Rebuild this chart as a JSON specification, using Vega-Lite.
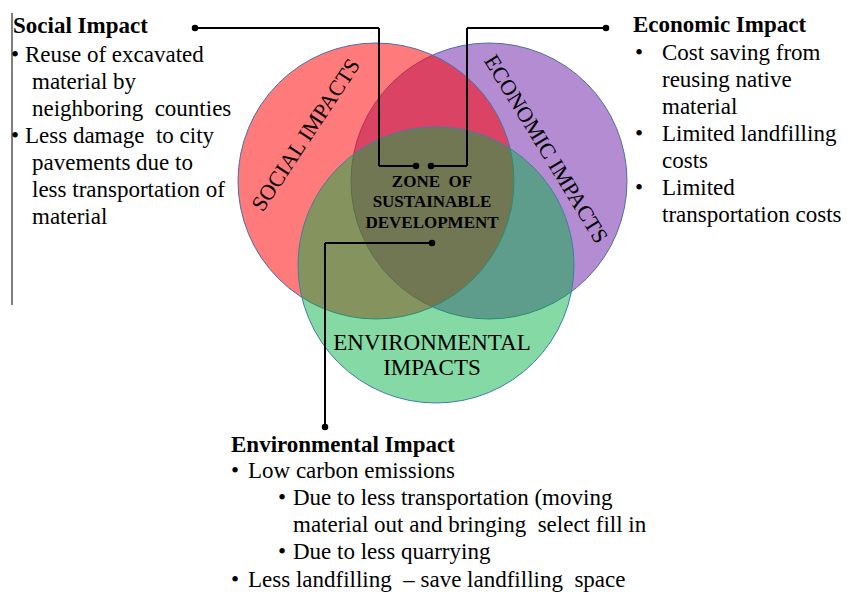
{
  "$schema": "https://vega.github.io/schema/vega-lite/v6.json",
  "width": 847,
  "height": 594,
  "autosize": {"type": "fit", "contains": "padding"},
  "padding": 0,
  "background": "white",
  "config": {"view": {"stroke": null}, "text": {"font": "Liberation Serif", "color": "black"}},
  "datasets": {
    "circles": [
      {"name": "Economic", "cx": 489, "cy": 181},
      {"name": "Social", "cx": 376, "cy": 181},
      {"name": "Environmental", "cx": 436, "cy": 265}
    ],
    "segments": [
      {"x": 195, "y": 28, "x2": 379, "y2": 28},
      {"x": 379, "y": 28, "x2": 379, "y2": 166},
      {"x": 379, "y": 166, "x2": 416, "y2": 166},
      {"x": 606, "y": 28, "x2": 467, "y2": 28},
      {"x": 467, "y": 28, "x2": 467, "y2": 166},
      {"x": 467, "y": 166, "x2": 431, "y2": 166},
      {"x": 432, "y": 243, "x2": 325, "y2": 243},
      {"x": 325, "y": 243, "x2": 325, "y2": 427}
    ],
    "border": [{"x": 12, "y": 13, "x2": 12, "y2": 305}],
    "dots": [
      {"x": 195, "y": 28}, {"x": 416, "y": 166}, {"x": 606, "y": 28},
      {"x": 431, "y": 166}, {"x": 432, "y": 243}, {"x": 325, "y": 427}
    ],
    "labels": [
      {"group": "head", "text": "Social Impact", "x": 13, "y": 33},
      {"group": "head", "text": "Economic Impact", "x": 633, "y": 32},
      {"group": "head", "text": "Environmental Impact", "x": 231, "y": 452},
      {"group": "body", "text": "•", "x": 11, "y": 62},
      {"group": "body", "text": "Reuse of excavated", "x": 25, "y": 62},
      {"group": "body", "text": "material by", "x": 32, "y": 89},
      {"group": "body", "text": "neighboring\u00a0 counties", "x": 32, "y": 116},
      {"group": "body", "text": "•", "x": 11, "y": 143},
      {"group": "body", "text": "Less damage\u00a0 to city", "x": 25, "y": 143},
      {"group": "body", "text": "pavements due to", "x": 32, "y": 170},
      {"group": "body", "text": "less transportation of", "x": 32, "y": 197},
      {"group": "body", "text": "material", "x": 32, "y": 224},
      {"group": "body", "text": "•", "x": 635, "y": 60},
      {"group": "body", "text": "Cost saving from", "x": 662, "y": 60},
      {"group": "body", "text": "reusing native", "x": 662, "y": 87},
      {"group": "body", "text": "material", "x": 662, "y": 114},
      {"group": "body", "text": "•", "x": 635, "y": 141},
      {"group": "body", "text": "Limited landfilling", "x": 662, "y": 141},
      {"group": "body", "text": "costs", "x": 662, "y": 168},
      {"group": "body", "text": "•", "x": 635, "y": 195},
      {"group": "body", "text": "Limited", "x": 662, "y": 195},
      {"group": "body", "text": "transportation costs", "x": 662, "y": 222},
      {"group": "body", "text": "•", "x": 231, "y": 478},
      {"group": "body", "text": "Low carbon emissions", "x": 248, "y": 478},
      {"group": "body", "text": "•", "x": 278, "y": 505},
      {"group": "body", "text": "Due to less transportation (moving", "x": 293, "y": 505},
      {"group": "body", "text": "material out and bringing\u00a0 select fill in", "x": 293, "y": 532},
      {"group": "body", "text": "•", "x": 278, "y": 559},
      {"group": "body", "text": "Due to less quarrying", "x": 293, "y": 559},
      {"group": "body", "text": "•", "x": 231, "y": 587},
      {"group": "body", "text": "Less landfilling\u00a0 – save landfilling\u00a0 space", "x": 248, "y": 587},
      {"group": "social", "text": "SOCIAL IMPACTS", "x": 306, "y": 135},
      {"group": "econ", "text": "ECONOMIC IMPACTS", "x": 546, "y": 149},
      {"group": "zone", "text": "ZONE\u00a0 OF", "x": 432, "y": 182},
      {"group": "zone", "text": "SUSTAINABLE", "x": 432, "y": 202},
      {"group": "zone", "text": "DEVELOPMENT", "x": 432, "y": 223},
      {"group": "env", "text": "ENVIRONMENTAL", "x": 432, "y": 343},
      {"group": "env", "text": "IMPACTS", "x": 432, "y": 368}
    ]
  },
  "encoding": {
    "x": {"field": "x", "type": "quantitative", "scale": {"domain": [0, 847], "nice": false, "zero": false}, "axis": null},
    "y": {"field": "y", "type": "quantitative", "scale": {"domain": [0, 594], "nice": false, "zero": false, "reverse": true}, "axis": null}
  },
  "layer": [
    {
      "data": {"name": "circles"},
      "transform": [{"filter": "datum.name === 'Economic'"}],
      "mark": {"type": "point", "shape": "circle", "filled": true, "size": 76176, "fill": "#B48CD2", "fillOpacity": 1, "opacity": 1, "stroke": "#4A6FA5", "strokeWidth": 1},
      "encoding": {
        "x": {"field": "cx", "type": "quantitative", "scale": {"domain": [0, 847], "nice": false, "zero": false}, "axis": null},
        "y": {"field": "cy", "type": "quantitative", "scale": {"domain": [0, 594], "nice": false, "zero": false, "reverse": true}, "axis": null}
      }
    },
    {
      "data": {"name": "circles"},
      "transform": [{"filter": "datum.name === 'Social'"}],
      "mark": {"type": "point", "shape": "circle", "filled": true, "size": 76176, "fill": "#FF0000", "fillOpacity": 0.52, "opacity": 1, "stroke": "#4A6FA5", "strokeWidth": 1},
      "encoding": {
        "x": {"field": "cx", "type": "quantitative", "scale": {"domain": [0, 847], "nice": false, "zero": false}, "axis": null},
        "y": {"field": "cy", "type": "quantitative", "scale": {"domain": [0, 594], "nice": false, "zero": false, "reverse": true}, "axis": null}
      }
    },
    {
      "data": {"name": "circles"},
      "transform": [{"filter": "datum.name === 'Environmental'"}],
      "mark": {"type": "point", "shape": "circle", "filled": true, "size": 76176, "fill": "#00B040", "fillOpacity": 0.48, "opacity": 1, "stroke": "#3F7FA0", "strokeWidth": 1},
      "encoding": {
        "x": {"field": "cx", "type": "quantitative", "scale": {"domain": [0, 847], "nice": false, "zero": false}, "axis": null},
        "y": {"field": "cy", "type": "quantitative", "scale": {"domain": [0, 594], "nice": false, "zero": false, "reverse": true}, "axis": null}
      }
    },
    {
      "data": {"name": "border"},
      "mark": {"type": "rule", "color": "#7F7F7F", "strokeWidth": 2},
      "encoding": {"x2": {"field": "x2"}, "y2": {"field": "y2"}}
    },
    {
      "data": {"name": "segments"},
      "mark": {"type": "rule", "color": "black", "strokeWidth": 2},
      "encoding": {"x2": {"field": "x2"}, "y2": {"field": "y2"}}
    },
    {
      "data": {"name": "dots"},
      "mark": {"type": "point", "shape": "circle", "filled": true, "size": 42, "color": "black", "opacity": 1}
    },
    {
      "data": {"name": "labels"},
      "transform": [{"filter": "datum.group === 'head'"}],
      "mark": {"type": "text", "align": "left", "baseline": "alphabetic", "fontSize": 23, "fontWeight": "bold"},
      "encoding": {"text": {"field": "text"}}
    },
    {
      "data": {"name": "labels"},
      "transform": [{"filter": "datum.group === 'body'"}],
      "mark": {"type": "text", "align": "left", "baseline": "alphabetic", "fontSize": 23},
      "encoding": {"text": {"field": "text"}}
    },
    {
      "data": {"name": "labels"},
      "transform": [{"filter": "datum.group === 'social'"}],
      "mark": {"type": "text", "align": "center", "baseline": "middle", "fontSize": 22, "angle": 303.5},
      "encoding": {"text": {"field": "text"}}
    },
    {
      "data": {"name": "labels"},
      "transform": [{"filter": "datum.group === 'econ'"}],
      "mark": {"type": "text", "align": "center", "baseline": "middle", "fontSize": 22, "angle": 58.5},
      "encoding": {"text": {"field": "text"}}
    },
    {
      "data": {"name": "labels"},
      "transform": [{"filter": "datum.group === 'zone'"}],
      "mark": {"type": "text", "align": "center", "baseline": "middle", "fontSize": 17, "fontWeight": "bold"},
      "encoding": {"text": {"field": "text"}}
    },
    {
      "data": {"name": "labels"},
      "transform": [{"filter": "datum.group === 'env'"}],
      "mark": {"type": "text", "align": "center", "baseline": "middle", "fontSize": 23},
      "encoding": {"text": {"field": "text"}}
    }
  ]
}
